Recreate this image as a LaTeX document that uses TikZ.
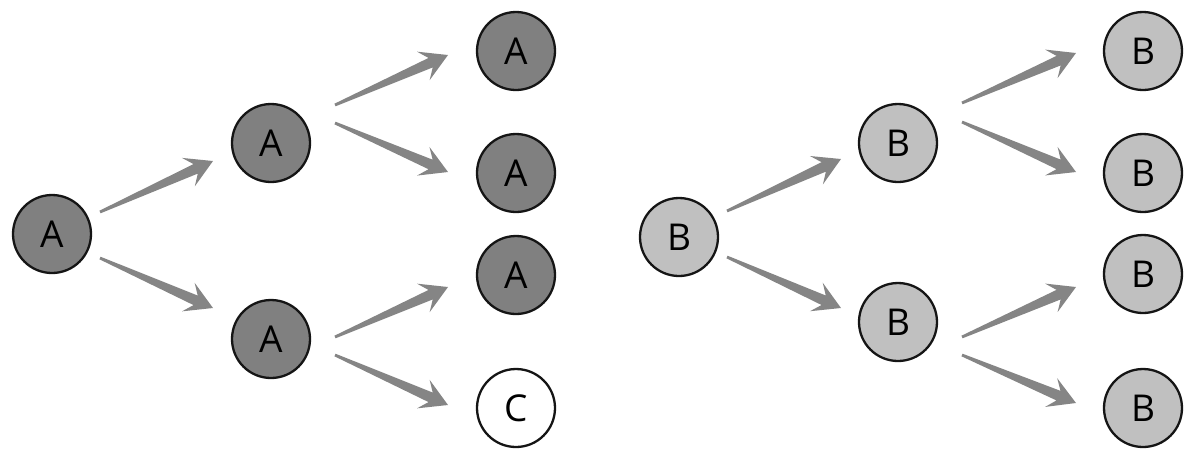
\documentclass[tikz,border=0pt]{standalone}
\usepackage{fontspec}
\setmainfont{Open Sans}
\usetikzlibrary{calc}
\definecolor{darkfill}{HTML}{808080}
\definecolor{lightfill}{HTML}{C0C0C0}
\definecolor{arrgray}{HTML}{858585}
\definecolor{edgecol}{HTML}{151515}
\newcommand\tarr[4]{%
 \coordinate (T) at ($(#1)+(#2)$);
 \coordinate (H) at ($(#3)+(#4)$);
 \coordinate (Q) at ($(H)!13.5pt!(T)$);
 \coordinate (N) at ($(H)!9.5pt!(T)$);
 \fill[arrgray] ($(T)!0.7pt!90:(H)$) -- ($(N)!2.6pt!90:(H)$) -- ($(Q)!7.8pt!90:(H)$) -- (H)
   -- ($(Q)!7.8pt!-90:(H)$) -- ($(N)!2.6pt!-90:(H)$) -- ($(T)!0.7pt!-90:(H)$) -- cycle;}
\begin{document}
\begin{tikzpicture}[x=0.5pt,y=-0.5pt,
  nd/.style={circle,draw=edgecol,line width=1.15pt,minimum size=39pt,inner sep=0pt,
    font=\fontsize{18.5}{22}\selectfont},
  dk/.style={nd,fill=darkfill},
  lt/.style={nd,fill=lightfill},
  wh/.style={nd,fill=white}]
\useasboundingbox (0,0) rectangle (1200,463);
\node[dk] (a1) at (52,234) {A};
\node[dk] (a2) at (271,143) {A};
\node[dk] (a3) at (271,339) {A};
\node[dk] (a4) at (516,51) {A};
\node[dk] (a5) at (516,173) {A};
\node[dk] (a6) at (516,275) {A};
\node[wh] (c) at (516,408) {C};
\node[lt] (b1) at (679,237) {B};
\node[lt] (b2) at (898,143) {B};
\node[lt] (b3) at (898,322) {B};
\node[lt] (b4) at (1143,51) {B};
\node[lt] (b5) at (1143,173) {B};
\node[lt] (b6) at (1143,274) {B};
\node[lt] (b7) at (1143,408) {B};
\tarr{a1}{48,-22}{a2}{-58,18}
\tarr{a1}{48,24}{a3}{-58,-31}
\tarr{a2}{64,-38}{a4}{-68,4}
\tarr{a2}{64,-20}{a5}{-68,-1}
\tarr{a3}{64,-2}{a6}{-68,12}
\tarr{a3}{64,16}{c}{-68,-3}
\tarr{b1}{48,-26}{b2}{-57,16}
\tarr{b1}{48,20}{b3}{-57,-14}
\tarr{b2}{64,-40}{b4}{-67,2}
\tarr{b2}{64,-21}{b5}{-67,-1}
\tarr{b3}{64,15}{b6}{-67,13}
\tarr{b3}{64,33}{b7}{-67,-5}
\end{tikzpicture}
\end{document}
